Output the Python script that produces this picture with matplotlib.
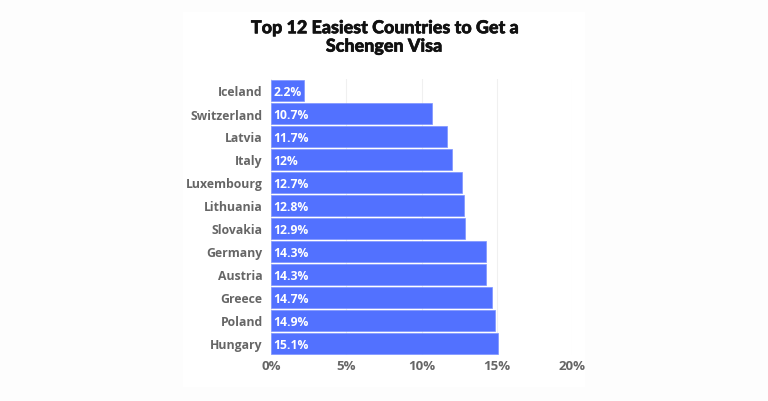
import matplotlib
matplotlib.use('Agg')
import matplotlib.pyplot as plt
import matplotlib.patheffects as pe
from matplotlib.patches import Rectangle

countries = ['Iceland', 'Switzerland', 'Latvia', 'Italy', 'Luxembourg', 'Lithuania',
             'Slovakia', 'Germany', 'Austria', 'Greece', 'Poland', 'Hungary']
rates = [2.2, 10.7, 11.7, 12, 12.7, 12.8, 12.9, 14.3, 14.3, 14.7, 14.9, 15.1]
bar_labels = ['2.2%', '10.7%', '11.7%', '12%', '12.7%', '12.8%', '12.9%', '14.3%',
              '14.3%', '14.7%', '14.9%', '15.1%']
xticks = [0, 5, 10, 15, 20]

plt.rcParams['font.family'] = ['Open Sans', 'DejaVu Sans']

W, H = 768, 402
fig = plt.figure(figsize=(W / 100, H / 100), dpi=100, facecolor='#fdfdfd')

# white card behind the chart
fig.add_artist(Rectangle((183 / W, 1 - 388 / H), 402 / W, 375 / H, transform=fig.transFigure,
                         facecolor='white', edgecolor='none', zorder=0))

ax = fig.add_axes([271 / W, 1 - 356 / H, 301 / W, 276 / H], facecolor='none')
ax.barh(range(len(countries)), rates, height=0.93, color='#5271ff', edgecolor='#7d94ff',
        linewidth=0.5, zorder=3)
ax.set_ylim(len(countries) - 0.5, -0.5)
ax.set_xlim(0, 20)

ax.set_xticks(xticks)
ax.set_xticklabels([f'{t}%' for t in xticks], fontsize=9.5, fontweight='bold', color='#666666')
ax.set_yticks(range(len(countries)))
ax.set_yticklabels(countries, fontsize=8.8, fontweight='bold', color='#666666')
ax.tick_params(axis='both', length=0)
ax.tick_params(axis='x', pad=3)
ax.tick_params(axis='y', pad=6)
ax.grid(axis='x', color='#f0f0f0', linewidth=0.8, zorder=0)
for s in ax.spines.values():
    s.set_visible(False)

for i, lab in enumerate(bar_labels):
    ax.text(0.15, i + 0.05, lab, color='white', fontsize=8.7, fontweight='bold',
            va='center', ha='left', zorder=4)

title = fig.text(384 / W, 1 - 38 / H, 'Top 12 Easiest Countries to Get a\nSchengen Visa',
                 ha='center', va='center', fontsize=12.9, fontweight=900, color='#111111',
                 family=['Lato', 'DejaVu Sans'], linespacing=1.1)
title.set_path_effects([pe.withStroke(linewidth=0.4, foreground='#111111')])

fig.savefig('out.png', dpi=100, facecolor=fig.get_facecolor())
